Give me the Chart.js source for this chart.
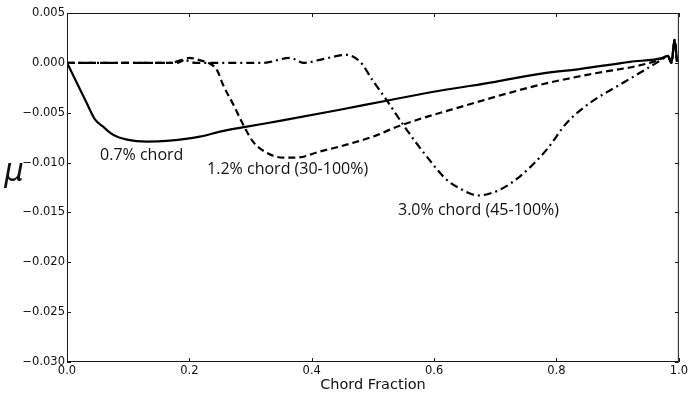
<!DOCTYPE html>
<html>
<head>
<meta charset="UTF-8" />
<title>Friction coefficient vs chord fraction</title>
<script src="https://cdn.jsdelivr.net/npm/chart.js"></script>
<style>
    html, body { margin: 0; padding: 0; background: #fff; }
    #wrap { width: 690px; height: 396px; }
</style>
</head>
<body>
<div id="wrap"><canvas id="muChart" width="690" height="396"></canvas></div>
<script>
// 0.7% chord roughness (full span)
const xSolid = [0, 0.016, 0.032, 0.046, 0.059, 0.075, 0.098, 0.13, 0.168, 0.217, 0.25, 0.294, 0.35, 0.446, 0.522, 0.609, 0.70, 0.773, 0.84, 0.92, 0.974, 0.982, 0.988, 0.993, 0.997];
const ySolid = [0, -0.0020, -0.0040, -0.0057, -0.0064, -0.0072, -0.0077, -0.0079, -0.0078, -0.0074, -0.0069, -0.0064, -0.0058, -0.0047, -0.0038, -0.0028, -0.0019, -0.0011, -0.0006, 0.0001, 0.0005, 0.0007, 0.0000, 0.0023, 0.0001];

// 1.2% chord roughness (30-100%)
const xDash = [0, 0.1, 0.18, 0.2, 0.215, 0.234, 0.245, 0.255, 0.272, 0.288, 0.304, 0.326, 0.353, 0.375, 0.413, 0.457, 0.5, 0.544, 0.65, 0.773, 0.85, 0.958, 0.974, 0.982, 0.988, 0.993, 0.997];
const yDash = [0, 0, 0, 0.0005, 0.0003, -0.0001, -0.0007, -0.0022, -0.0042, -0.0062, -0.0079, -0.0090, -0.0095, -0.0095, -0.0089, -0.0082, -0.0074, -0.0063, -0.0043, -0.0022, -0.0012, 0.0001, 0.0005, 0.0007, 0.0000, 0.0023, 0.0001];

// 3.0% chord roughness (45-100%)
const xDashDot = [0, 0.17, 0.19, 0.21, 0.32, 0.365, 0.386, 0.42, 0.457, 0.479, 0.5, 0.522, 0.555, 0.588, 0.62, 0.642, 0.672, 0.708, 0.74, 0.784, 0.817, 0.855, 0.909, 0.958, 0.974, 0.982, 0.988, 0.993, 0.997];
const yDashDot = [0, 0, 0.0003, 0, 0, 0.0005, 0.0000, 0.0004, 0.0008, 0.0001, -0.0018, -0.0037, -0.0067, -0.0094, -0.0117, -0.0126, -0.0133, -0.0127, -0.0114, -0.0087, -0.0060, -0.0040, -0.0020, -0.0002, 0.0004, 0.0007, 0.0000, 0.0023, 0.0001];

const seriesLabels = ['0.7% chord', '1.2% chord (30-100%)', '3.0% chord (45-100%)'];

// where each curve label sits, in data units (left edge, vertical middle)
const noteX = [0.054, 0.229, 0.541];
const noteY = [-0.0093, -0.0107, -0.0148];

const yTicks = { min: -0.030, max: 0.005, step: 0.005 };
const xTicks = { min: 0, max: 1, step: 0.2 };

function pts(xs, ys) {
    return xs.map((x, i) => ({ x: x, y: ys[i] }));
}

function fmtY(v) {
    const r = Math.round(v * 1000);
    return (r < 0 ? '\u2212' : '') + Math.abs(v).toFixed(3);
}

const tickFont = { family: 'DejaVu Sans', size: 11.5 };

// frame with inward ticks on all four sides, curve labels and the mu symbol
const framePlugin = {
    id: 'frame',
    afterDraw(chart) {
        const ctx = chart.ctx;
        const a = chart.chartArea;
        const sx = chart.scales.x, sy = chart.scales.y;
        const len = 4;
        ctx.save();
        ctx.strokeStyle = '#1a1a1a';
        ctx.lineWidth = 1;
        ctx.strokeRect(a.left + 0.5, a.top + 0.5, a.right - a.left - 1, a.bottom - a.top - 1);
        ctx.beginPath();
        sx.ticks.forEach(t => {
            const px = Math.round(sx.getPixelForValue(t.value)) + 0.5;
            ctx.moveTo(px, a.bottom); ctx.lineTo(px, a.bottom - len);
            ctx.moveTo(px, a.top); ctx.lineTo(px, a.top + len);
        });
        sy.ticks.forEach(t => {
            const py = Math.round(sy.getPixelForValue(t.value)) + 0.5;
            ctx.moveTo(a.left, py); ctx.lineTo(a.left + len, py);
            ctx.moveTo(a.right, py); ctx.lineTo(a.right - len, py);
        });
        ctx.stroke();

        ctx.fillStyle = '#111';
        ctx.font = '16px "Open Sans"';
        ctx.textAlign = 'left';
        ctx.textBaseline = 'middle';
        seriesLabels.forEach((s, i) => {
            ctx.fillText(s, sx.getPixelForValue(noteX[i]), sy.getPixelForValue(noteY[i]));
        });

        ctx.font = 'italic 31px "DejaVu Sans"';
        ctx.textAlign = 'center';
        ctx.textBaseline = 'alphabetic';
        ctx.fillText('\u03bc', 14, 181);
        ctx.restore();
    }
};

const lineBase = {
    showLine: true,
    pointRadius: 0,
    borderColor: '#000',
    borderWidth: 2.2,
    fill: false,
    cubicInterpolationMode: 'monotone'
};

new Chart(document.getElementById('muChart'), {
    type: 'scatter',
    data: {
        datasets: [
            Object.assign({ label: seriesLabels[0], data: pts(xSolid, ySolid) }, lineBase),
            Object.assign({ label: seriesLabels[1], data: pts(xDash, yDash), borderDash: [7, 4] }, lineBase),
            Object.assign({ label: seriesLabels[2], data: pts(xDashDot, yDashDot), borderDash: [8, 4, 2, 4] }, lineBase)
        ]
    },
    options: {
        responsive: false,
        animation: false,
        devicePixelRatio: 1,
        layout: { padding: { top: 13, right: 11, left: 0, bottom: 0 } },
        plugins: { legend: { display: false }, tooltip: { enabled: false } },
        scales: {
            x: {
                type: 'linear',
                min: xTicks.min,
                max: xTicks.max,
                afterFit(scale) { scale.height = 34; },
                grid: { display: false, drawTicks: false },
                border: { display: false },
                ticks: {
                    stepSize: xTicks.step,
                    autoSkip: false,
                    maxRotation: 0,
                    padding: 2,
                    color: '#111',
                    font: tickFont,
                    callback: v => v.toFixed(1)
                },
                title: {
                    display: true,
                    text: 'Chord Fraction',
                    color: '#111',
                    font: { family: 'DejaVu Sans', size: 14.5 },
                    padding: { top: 0, bottom: 2 }
                }
            },
            y: {
                type: 'linear',
                min: yTicks.min,
                max: yTicks.max,
                afterFit(scale) { scale.width = 67; },
                grid: { display: false, drawTicks: false },
                border: { display: false },
                ticks: {
                    stepSize: yTicks.step,
                    autoSkip: false,
                    padding: 2,
                    color: '#111',
                    font: tickFont,
                    callback: fmtY
                }
            }
        }
    },
    plugins: [framePlugin]
});
</script>
</body>
</html>
